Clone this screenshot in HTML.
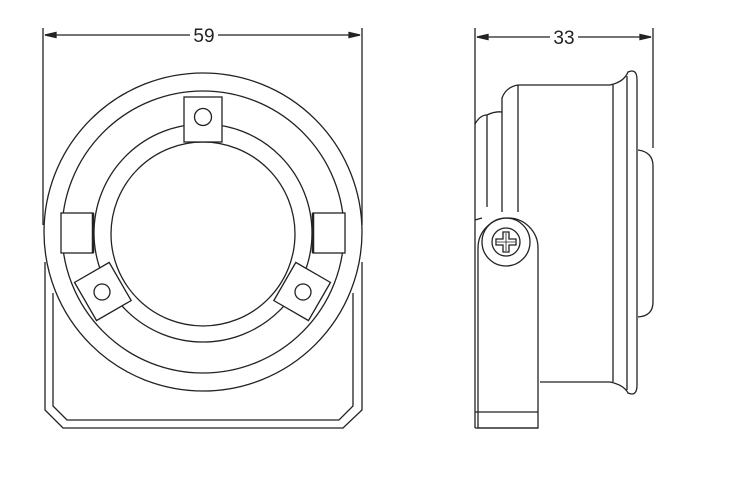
<!DOCTYPE html>
<html><head><style>body{margin:0;background:#fff}svg{display:block}</style></head><body>
<svg width="730" height="478" viewBox="0 0 730 478" xmlns="http://www.w3.org/2000/svg" fill="none" stroke="#222" stroke-width="1.3">
<!-- Front view -->
<line x1="43" y1="28" x2="43" y2="225"/>
<line x1="362" y1="28" x2="362" y2="225"/>
<line x1="45" y1="35" x2="190" y2="35"/><line x1="218" y1="35" x2="360" y2="35"/>
<path d="M45 35 L56 32.5 L56 37.5Z M360 35 L349 32.5 L349 37.5Z" fill="#222"/>
<text x="204" y="42" font-family="Liberation Sans, sans-serif" font-size="19" fill="#222" stroke="none" text-anchor="middle">59</text>
<circle cx="203" cy="232" r="159"/>
<circle cx="203" cy="232" r="141"/>
<circle cx="203" cy="233" r="109"/>
<circle cx="203" cy="234" r="92"/>
<rect x="184" y="97" width="38" height="45" fill="#fff"/>
<circle cx="203" cy="117" r="8.5"/>
<rect x="61" y="213" width="32" height="40" fill="#fff"/>
<line x1="93" y1="213" x2="93" y2="253" stroke-width="2.5"/>
<rect x="313" y="213" width="32" height="40" fill="#fff"/>
<line x1="313" y1="213" x2="313" y2="253" stroke-width="2.5"/>
<g transform="translate(102,292) rotate(-30)"><rect x="-19" y="-22" width="40" height="44" fill="#fff"/></g>
<circle cx="102" cy="292" r="8"/>
<g transform="translate(303,292) rotate(30)"><rect x="-21" y="-22" width="40" height="44" fill="#fff"/></g>
<circle cx="303" cy="292" r="8"/>
<path d="M45 262 L45 410 L63 428 L343 428 L362 410 L362 262"/>
<path d="M53 293 L53 406 L67 420 L339 420 L353 406 L353 293"/>
<!-- Side view -->
<line x1="475" y1="28" x2="475" y2="428"/>
<line x1="653" y1="28" x2="653" y2="148"/>
<line x1="477" y1="37" x2="550" y2="37"/><line x1="578" y1="37" x2="651" y2="37"/>
<path d="M477 37 L488 34.5 L488 39.5Z M651 37 L640 34.5 L640 39.5Z" fill="#222"/>
<text x="564" y="44" font-family="Liberation Sans, sans-serif" font-size="19" fill="#222" stroke="none" text-anchor="middle">33</text>
<path d="M638 150 Q653 152 653 166 L653 302 Q653 316 638 317"/>
<path d="M518 85 L610 85 Q624 82 628 72 Q637 68 637 80 L637 385 Q637 397 628 393 Q624 385 610 382 L540 382"/>
<line x1="613" y1="85" x2="613" y2="382"/>
<line x1="627" y1="76" x2="627" y2="390"/>
<line x1="518" y1="85" x2="518" y2="212"/>
<path d="M502 212 L502 98 Q506 87 518 85"/>
<path d="M487 207 L487 115 Q495 111 502 112"/>
<path d="M475 124 Q480 115 487 115"/>
<path d="M475 220 L482 218"/>
<path d="M478 428 L478 248 A30 30 0 0 1 538 248 L538 428 Z" fill="#fff"/>
<line x1="475" y1="412" x2="538" y2="412"/>
<line x1="475" y1="428" x2="538" y2="428"/>
<circle cx="506" cy="242" r="24"/>
<circle cx="506" cy="242" r="14"/>
<path d="M503 232 h6 v7 h7 v6 h-7 v7 h-6 v-7 h-7 v-6 h7Z"/>
<path d="M506 233 v18 M497 242 h18" stroke-width="0.8"/>
</svg>
</body></html>
